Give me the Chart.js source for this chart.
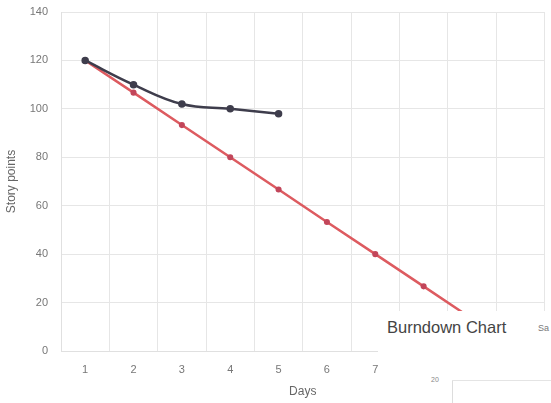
<!DOCTYPE html>
<html>
<head>
<meta charset="utf-8">
<script src="https://cdn.jsdelivr.net/npm/chart.js@4/dist/chart.umd.min.js"></script>
<style>
  html, body { margin: 0; padding: 0; background: #fff; }
  #wrap { position: relative; width: 551px; height: 403px; overflow: hidden; }
  #panel {
    position: absolute; left: 378px; top: 311px; width: 173px; height: 92px;
    background: #fff; font-family: 'Liberation Sans', Arial, sans-serif;
  }
  #panel .title { position: absolute; left: 9px; top: 7px; font-size: 16.5px; color: #444; white-space: nowrap; }
  #panel .tab { position: absolute; left: 160px; top: 12px; font-size: 9px; color: #777; }
  #panel .tick { position: absolute; left: 53px; top: 65px; font-size: 7px; color: #888; }
  #panel .vline { position: absolute; left: 74px; top: 69px; width: 1px; height: 30px; background: #ddd; }
  #panel .hline { position: absolute; left: 74px; top: 69px; width: 100px; height: 1px; background: #e4e4e4; }
</style>
</head>
<body>
<div id="wrap">
  <canvas id="burndown" width="551" height="403"></canvas>
  <div id="panel">
    <span class="title">Burndown Chart</span>
    <span class="tab">Sa</span>
    <span class="tick">20</span>
    <div class="vline"></div>
    <div class="hline"></div>
  </div>
</div>
<script>
// Burndown data
const days = ['1', '2', '3', '4', '5', '6', '7', '8', '9', '10'];
const idealPoints = [120, 106.7, 93.3, 80, 66.7, 53.3, 40, 26.7, 13.3, 0];
const actualPoints = [120, 110, 102, 100, 98];

(function () {
    const canvas = document.getElementById('burndown');
    const font = "'Liberation Sans', Arial, sans-serif";

    new Chart(canvas.getContext('2d'), {
        type: 'line',
        data: {
            labels: days,
            datasets: [
                {
                    label: 'Actual',
                    data: actualPoints,
                    borderColor: '#3e3d4c',
                    backgroundColor: '#3e3d4c',
                    borderWidth: 2.5,
                    pointRadius: 2.5,
                    tension: 0.4
                },
                {
                    label: 'Ideal',
                    data: idealPoints,
                    borderColor: '#dd5b60',
                    backgroundColor: '#c2465a',
                    pointBorderColor: '#c2465a',
                    borderWidth: 2.5,
                    pointRadius: 1.8,
                    tension: 0
                }
            ]
        },
        options: {
            responsive: false,
            animation: false,
            layout: { padding: { top: 12, right: 3, left: 0, bottom: 0 } },
            plugins: {
                legend: { display: false },
                tooltip: { enabled: false }
            },
            scales: {
                x: {
                    offset: true,
                    grid: { color: '#e6e6e6', drawTicks: false, offset: true },
                    border: { color: '#e0e0e0' },
                    ticks: { color: '#777', font: { family: font, size: 11 }, padding: 12 },
                    title: { display: true, text: 'Days', color: '#666', font: { family: font, size: 12 }, padding: { top: 6 } },
                    afterFit: function (scale) { scale.height = 52; }
                },
                y: {
                    min: 0,
                    max: 140,
                    grid: { color: '#e6e6e6', drawTicks: false },
                    border: { color: '#e0e0e0' },
                    ticks: { stepSize: 20, color: '#777', font: { family: font, size: 11 }, padding: 13 },
                    title: { display: true, text: 'Story points', color: '#666', font: { family: font, size: 12 } },
                    afterFit: function (scale) {
                        scale.width = 61;
                        scale.paddingTop = 0;
                    }
                }
            }
        }
    });
})();
</script>
</body>
</html>
